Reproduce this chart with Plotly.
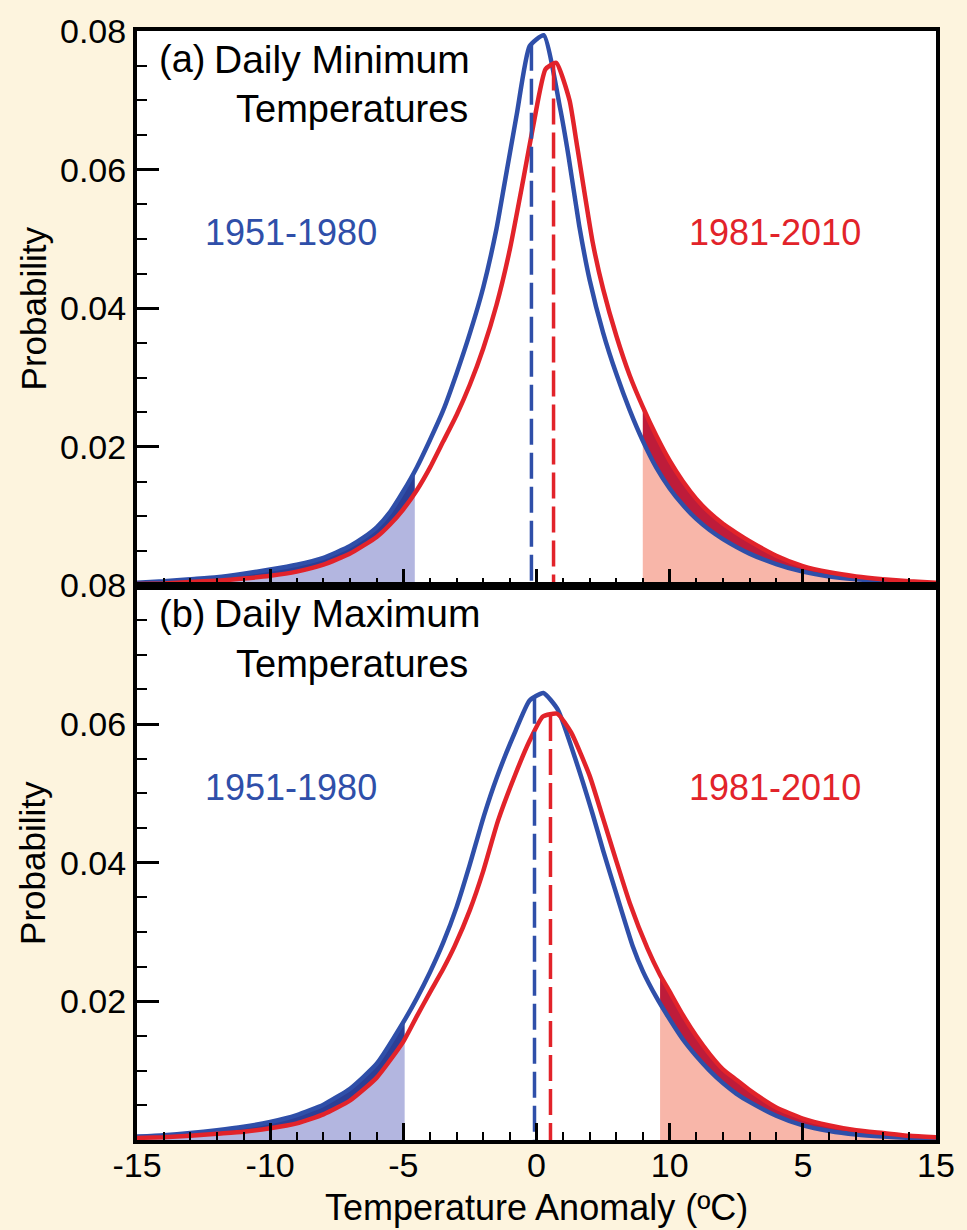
import numpy as np
import plotly.graph_objects as go

# ---------------- data ----------------
# Panel (a) Daily Minimum Temperatures
xa_blue = [-15,-14,-13,-12,-11,-10,-9,-8,-7.5,-7,-6.5,-6,-5.5,-5,-4.5,-4,-3.5,-3,-2.5,-2,-1.5,-1.2,-0.74,-0.26,0.27,0.89,1.2,1.6,2,2.5,3,3.5,4,4.5,5,5.5,6,6.5,7,8,9,10,11,12,13,14,15]
ya_blue = [0.0004,0.0006,0.0009,0.0012,0.0017,0.0023,0.0030,0.0040,0.0048,0.0057,0.0069,0.0084,0.0106,0.0136,0.0170,0.0210,0.0253,0.0306,0.0364,0.0430,0.0515,0.0580,0.0680,0.0778,0.0794,0.0688,0.0620,0.0520,0.0440,0.0365,0.0305,0.0253,0.0208,0.0170,0.0140,0.0116,0.0096,0.0080,0.0067,0.0046,0.0031,0.0020,0.0013,0.0009,0.0006,0.0004,0.0002]
xa_red = [-15,-14,-13,-12,-11,-10,-9,-8,-7,-6,-5.5,-5,-4.5,-4,-3.5,-3,-2.5,-2,-1.5,-1,-0.5,-0.1,0.34,0.74,1.24,1.5,2.11,2.5,3,3.5,4,4.5,5,5.5,6,6.5,7,7.5,8,9,10,11,12,13,14,15]
ya_red = [0.0002,0.0003,0.0005,0.0007,0.0010,0.0014,0.0020,0.0030,0.0046,0.0070,0.0088,0.0110,0.0137,0.0170,0.0208,0.0246,0.0290,0.0342,0.0405,0.0485,0.0585,0.0668,0.0745,0.0754,0.0700,0.0640,0.0495,0.0428,0.0360,0.0303,0.0257,0.0216,0.0180,0.0150,0.0125,0.0105,0.0089,0.0076,0.0064,0.0043,0.0028,0.0019,0.0013,0.0009,0.0006,0.0004]
mean_a = [-0.19, 0.64]          # blue, red dashed lines
tail_a = [-4.57, 3.99]          # cold-tail end, warm-tail start

# Panel (b) Daily Maximum Temperatures
xb_blue = [-15,-14,-13,-12,-11,-10,-9,-8,-7,-6,-5,-4.5,-4,-3.5,-3,-2.5,-1.98,-1.5,-0.79,-0.26,0.26,0.8,1.5,2.11,2.5,3,3.61,4,4.5,4.89,5.5,6,6.5,7,7.5,8,9,10,11,12,13,14,15]
yb_blue = [0.0005,0.0007,0.0010,0.0014,0.0019,0.0026,0.0036,0.0051,0.0074,0.0110,0.0170,0.0204,0.0242,0.0285,0.0336,0.0398,0.0467,0.0522,0.0590,0.0634,0.0645,0.0621,0.0545,0.0470,0.0418,0.0355,0.0280,0.0243,0.0206,0.0181,0.0145,0.0121,0.0100,0.0082,0.0067,0.0055,0.0035,0.0021,0.0013,0.0008,0.0005,0.0003,0.0002]
xb_red = [-15,-14,-13,-12,-11,-10,-9,-8,-7,-6,-5,-4.5,-4,-3.5,-3.07,-2.5,-2,-1.45,-0.8,-0.26,0.24,0.78,1.3,2,2.49,3,3.5,4.17,4.64,5,5.5,6,6.5,7,7.5,8,9,10,11,12,13,14,15]
yb_red = [0.0003,0.0004,0.0006,0.0009,0.0012,0.0017,0.0024,0.0037,0.0057,0.0090,0.0142,0.0178,0.0213,0.0247,0.0280,0.0332,0.0388,0.0460,0.0527,0.0576,0.0611,0.0615,0.0588,0.0525,0.0465,0.0402,0.0342,0.0276,0.0238,0.0214,0.0180,0.0150,0.0124,0.0102,0.0087,0.0072,0.0047,0.0031,0.0021,0.0014,0.0010,0.0006,0.0004]
mean_b = [-0.075, 0.525]
tail_b = [-4.95, 4.64]

x_tickvals = [-15, -10, -5, 0, 5, 10, 15]
x_ticktext = ["-15", "-10", "-5", "0", "10", "5", "15"]
y_tickvals = [0.02, 0.04, 0.06, 0.08]
y_ticktext = ["0.02", "0.04", "0.06", "0.08"]
period_labels = ["1951-1980", "1981-2010"]
panel_titles = [("(a)", "Daily Minimum", "Temperatures"), ("(b)", "Daily Maximum", "Temperatures")]

# ---------------- style ----------------
BLUE = "#2f4fa9"
RED = "#e2232a"
LBLUE = "#b3b6e0"
DBLUE = "#2b3f96"
LRED = "#f8b6a9"
DRED = "#be1c3a"
CREAM = "#fdf4de"
FONT = "Liberation Sans, Arial, Helvetica, sans-serif"
SMOOTH = 0.5

fig = go.Figure()


def add_tail(xref, yref, lo_x, lo_y, hi_x, hi_y, a, b, light, dark):
    pts = sorted(set([a, b] + [v for v in list(lo_x) + list(hi_x) if a < v < b]))
    lo = np.interp(pts, lo_x, lo_y)
    hi = np.interp(pts, hi_x, hi_y)
    fig.add_trace(go.Scatter(x=pts, y=lo, mode="lines",
                             line=dict(width=0, color=light, shape="spline", smoothing=SMOOTH),
                             fill="tozeroy", fillcolor=light, xaxis=xref, yaxis=yref,
                             showlegend=False, hoverinfo="skip"))
    fig.add_trace(go.Scatter(x=pts, y=hi, mode="lines",
                             line=dict(width=0, color=dark, shape="spline", smoothing=SMOOTH),
                             fill="tonexty", fillcolor=dark, xaxis=xref, yaxis=yref,
                             showlegend=False, hoverinfo="skip"))


panels = [
    ("x", "y", xa_blue, ya_blue, xa_red, ya_red, mean_a, tail_a),
    ("x2", "y2", xb_blue, yb_blue, xb_red, yb_red, mean_b, tail_b),
]

for xr, yr, bx, by, rx, ry, mean, tail in panels:
    # cold tail: lower = red, upper = blue
    add_tail(xr, yr, rx, ry, bx, by, -15, tail[0], LBLUE, DBLUE)
    # warm tail: lower = blue, upper = red
    add_tail(xr, yr, bx, by, rx, ry, tail[1], 15, LRED, DRED)
    fig.add_trace(go.Scatter(x=bx, y=by, mode="lines",
                             line=dict(color=BLUE, width=4.5, shape="spline", smoothing=SMOOTH),
                             xaxis=xr, yaxis=yr, showlegend=False))
    fig.add_trace(go.Scatter(x=rx, y=ry, mode="lines",
                             line=dict(color=RED, width=4.5, shape="spline", smoothing=SMOOTH),
                             xaxis=xr, yaxis=yr, showlegend=False))
    for m, cx, cy, col in [(mean[0], bx, by, BLUE), (mean[1], rx, ry, RED)]:
        top = float(np.interp(m, cx, cy))
        fig.add_trace(go.Scatter(x=[m, m], y=[top, 0], mode="lines",
                                 line=dict(color=col, width=3.5, dash="26px,8px"),
                                 xaxis=xr, yaxis=yr, showlegend=False))

axis_common = dict(showline=True, linewidth=4, linecolor="black", mirror=True,
                   showgrid=False, zeroline=False, ticks="inside", tickcolor="black",
                   tickfont=dict(family=FONT, size=34, color="black"))

xaxis_cfg = dict(range=[-15, 15], tickvals=x_tickvals, ticktext=x_ticktext,
                 ticklen=17, tickwidth=3,
                 minor=dict(dtick=1, ticklen=8, tickwidth=2, ticks="inside", tickcolor="black"),
                 **axis_common)
yaxis_cfg = dict(range=[0, 0.08], tickvals=y_tickvals, ticktext=y_ticktext,
                 ticklen=22, tickwidth=3,
                 minor=dict(dtick=0.005, ticklen=10, tickwidth=2, ticks="inside", tickcolor="black"),
                 **axis_common)

fig.update_layout(
    width=967, height=1230,
    margin=dict(l=137, r=30, t=19, b=90),
    paper_bgcolor=CREAM, plot_bgcolor="white",
    xaxis=dict(anchor="y", showticklabels=False, **xaxis_cfg),
    yaxis=dict(domain=[0.5, 1], anchor="x", **yaxis_cfg),
    xaxis2=dict(anchor="y2", ticklabelstandoff=-8, **xaxis_cfg),
    yaxis2=dict(domain=[0, 0.5], anchor="x2", **yaxis_cfg),
    showlegend=False,
)

ann = []
for (xr, yr), (tag, l1, l2) in zip([("x", "y"), ("x2", "y2")], panel_titles):
    ann.append(dict(x=-14.25, y=0.0759, xref=xr, yref=yr, text=tag, showarrow=False,
                    xanchor="left", yanchor="middle", font=dict(family=FONT, size=38, color="black")))
    ann.append(dict(x=-12.2, y=0.0759, xref=xr, yref=yr, text=l1, showarrow=False,
                    xanchor="left", yanchor="middle", font=dict(family=FONT, size=39, color="black")))
    ann.append(dict(x=-6.94, y=0.0687, xref=xr, yref=yr, text=l2, showarrow=False,
                    xanchor="center", yanchor="middle", font=dict(family=FONT, size=38, color="black")))
    ann.append(dict(x=-9.22, y=0.0509, xref=xr, yref=yr, text=period_labels[0], showarrow=False,
                    xanchor="center", yanchor="middle", font=dict(family=FONT, size=36, color=BLUE)))
    ann.append(dict(x=8.96, y=0.0509, xref=xr, yref=yr, text=period_labels[1], showarrow=False,
                    xanchor="center", yanchor="middle", font=dict(family=FONT, size=36, color=RED)))
    ann.append(dict(x=-0.13, y=0.04, xref="paper", yref=yr, text="Probability", showarrow=False,
                    textangle=-90, xanchor="center", yanchor="middle",
                    font=dict(family=FONT, size=35, color="black")))

ann.append(dict(x=0.5, y=(1140 - 1208) / 1121, xref="paper", yref="paper",
                text="Temperature Anomaly (ºC)", showarrow=False, xanchor="center", yanchor="middle",
                font=dict(family=FONT, size=36, color="black")))
fig.update_layout(annotations=ann)

fig.write_html("out.html", config={"displayModeBar": False},
               post_script="document.body.style.margin='0px';document.body.style.overflow='hidden';")
